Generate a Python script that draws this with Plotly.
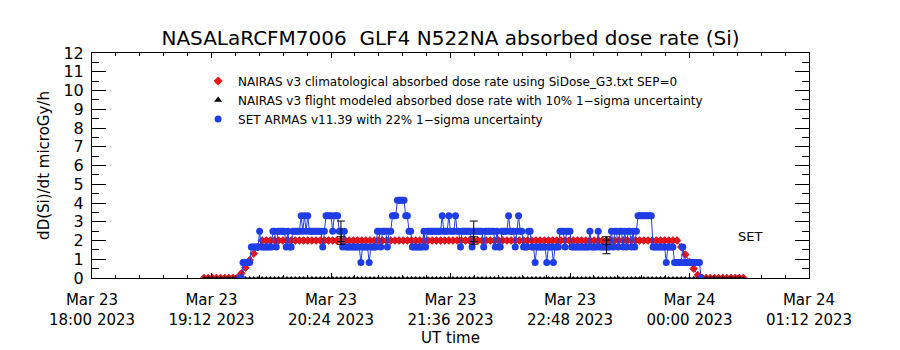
import pandas as pd
import plotly.graph_objects as go

# ---------------- data ----------------
TITLE = "NASALaRCFM7006\u00a0\u00a0GLF4 N522NA absorbed dose rate (Si)"
NAMES = [
    "NAIRAS v3 climatological absorbed dose rate using SiDose_G3.txt SEP=0",
    "NAIRAS v3 flight modeled absorbed dose rate with 10% 1\u2212sigma uncertainty",
    "SET ARMAS v11.39 with 22% 1\u2212sigma uncertainty",
]

# NAIRAS climatological (microGy/h), every 2.5 min from 19:07:30
NAIRAS_START = "2023-03-23 19:07:30"
NAIRAS_STEP = "150s"
nairas_clim = [
    0.0, 0.0, 0.0, 0.0, 0.0, 0.0, 0.0, 0.0, 0.0,
    0.25, 0.55, 0.95, 1.3, 1.65,
    2.0, 2.0, 2.0, 2.0, 2.0, 2.0, 2.0, 2.0, 2.0, 2.0,
    2.0, 2.0, 2.0, 2.0, 2.0, 2.0, 2.0, 2.0, 2.0, 2.0,
    2.0, 2.0, 2.0, 2.0, 2.0, 2.0, 2.0, 2.0, 2.0, 2.0,
    2.0, 2.0, 2.0, 2.0, 2.0, 2.0, 2.0, 2.0, 2.0, 2.0,
    2.0, 2.0, 2.0, 2.0, 2.0, 2.0, 2.0, 2.0, 2.0, 2.0,
    2.0, 2.0, 2.0, 2.0, 2.0, 2.0, 2.0, 2.0, 2.0, 2.0,
    2.0, 2.0, 2.0, 2.0, 2.0, 2.0, 2.0, 2.0, 2.0, 2.0,
    2.0, 2.0, 2.0, 2.0, 2.0, 2.0, 2.0, 2.0, 2.0, 2.0,
    2.0, 2.0, 2.0, 2.0, 2.0, 2.0, 2.0, 2.0, 2.0, 2.0,
    2.0, 2.0, 2.0, 2.0, 2.0, 2.0, 2.0, 2.0, 2.0, 2.0,
    2.0,
    1.65, 1.25, 0.85, 0.5, 0.15,
    0.0, 0.0, 0.0, 0.0, 0.0, 0.0, 0.0, 0.0, 0.0, 0.0, 0.0,
]

# NAIRAS flight modeled (microGy/h), same sampling
nairas_flight = [
    0.0, 0.0, 0.0, 0.0, 0.0, 0.0, 0.0, 0.0, 0.0, 0.0,
    0.0, 0.0, 0.0, 0.0, 0.0, 0.0, 0.0, 0.0, 0.0, 0.0,
    0.0, 0.0, 0.0, 0.0, 0.0, 0.0, 0.0, 0.0, 0.0, 0.0,
    0.0, 0.0, 0.0, 0.0, 0.0, 0.0, 0.0, 0.0, 0.0, 0.0,
    0.0, 0.0, 0.0, 0.0, 0.0, 0.0, 0.0, 0.0, 0.0, 0.0,
    0.0, 0.0, 0.0, 0.0, 0.0, 0.0, 0.0, 0.0, 0.0, 0.0,
    0.0, 0.0, 0.0, 0.0, 0.0, 0.0, 0.0, 0.0, 0.0, 0.0,
    0.0, 0.0, 0.0, 0.0, 0.0, 0.0, 0.0, 0.0, 0.0, 0.0,
    0.0, 0.0, 0.0, 0.0, 0.0, 0.0, 0.0, 0.0, 0.0, 0.0,
    0.0, 0.0, 0.0, 0.0, 0.0, 0.0, 0.0, 0.0, 0.0, 0.0,
    0.0, 0.0, 0.0, 0.0, 0.0, 0.0, 0.0, 0.0, 0.0, 0.0,
    0.0, 0.0, 0.0, 0.0, 0.0, 0.0, 0.0, 0.0, 0.0, 0.0,
    0.0, 0.0, 0.0, 0.0, 0.0, 0.0, 0.0, 0.0, 0.0, 0.0,
    0.0,
]

# SET ARMAS (microGy/h), every 1 min from 19:29
SET_START = "2023-03-23 19:29"
SET_STEP = "1min"
set_armas = [
    0.0, 0.0, 0.83, 0.83, 0.83, 0.83, 0.83, 1.66, 1.66, 1.66,
    1.66, 1.66, 2.49, 1.66, 1.66, 1.66, 1.66, 1.66, 1.66, 1.66,
    2.49, 2.49, 1.66, 2.49, 2.49, 2.49, 2.49, 2.49, 1.66, 2.49,
    1.66, 1.66, 2.49, 2.49, 2.49, 2.49, 2.49, 3.32, 2.49, 3.32,
    2.49, 3.32, 2.49, 2.49, 2.49, 2.49, 2.49, 2.49, 2.49, 2.49,
    1.66, 2.49, 3.32, 3.32, 3.32, 3.32, 2.49, 3.32, 3.32, 3.32,
    2.49, 2.49, 1.66, 2.49, 1.66, 1.66, 1.66, 1.66, 1.66, 1.66,
    1.66, 1.66, 1.66, 0.83, 1.66, 1.66, 1.66, 1.66, 0.83, 1.66,
    1.66, 1.66, 1.66, 2.49, 2.49, 1.66, 2.49, 2.49, 2.49, 1.66,
    2.49, 2.49, 3.32, 3.32, 3.32, 4.15, 4.15, 4.15, 4.15, 4.15,
    3.32, 3.32, 2.49, 2.49, 1.66, 1.66, 1.66, 1.66, 1.66, 1.66,
    1.66, 2.49, 1.66, 2.49, 2.49, 2.49, 2.49, 2.49, 2.49, 2.49,
    2.49, 2.49, 3.32, 2.49, 2.49, 2.49, 3.32, 2.49, 2.49, 2.49,
    3.32, 2.49, 2.49, 1.66, 2.49, 2.49, 2.49, 2.49, 2.49, 2.49,
    1.66, 2.49, 2.49, 2.49, 2.49, 2.49, 2.49, 1.66, 2.49, 2.49,
    2.49, 2.49, 2.49, 2.49, 1.66, 2.49, 1.66, 1.66, 2.49, 2.49,
    2.49, 2.49, 3.32, 2.49, 2.49, 2.49, 1.66, 2.49, 3.32, 2.49,
    2.49, 1.66, 1.66, 1.66, 2.49, 2.49, 1.66, 1.66, 0.83, 1.66,
    1.66, 1.66, 1.66, 1.66, 1.66, 0.83, 1.66, 1.66, 1.66, 0.83,
    1.66, 1.66, 1.66, 2.49, 2.49, 2.49, 1.66, 2.49, 2.49, 2.49,
    1.66, 1.66, 1.66, 1.66, 1.66, 1.66, 1.66, 1.66, 1.66, 1.66,
    1.66, 2.49, 1.66, 1.66, 1.66, 1.66, 2.49, 1.66, 1.66, 1.66,
    1.66, 1.66, 1.66, 1.66, 2.49, 1.66, 2.49, 2.49, 1.66, 2.49,
    2.49, 1.66, 2.49, 1.66, 2.49, 2.49, 1.66, 2.49, 1.66, 2.49,
    3.32, 3.32, 3.32, 3.32, 3.32, 3.32, 3.32, 3.32, 3.32, 1.66,
    1.66, 1.66, 1.66, 1.66, 1.66, 1.66, 1.66, 0.83, 1.66, 1.66,
    1.66, 1.66, 0.83, 0.83, 0.83, 0.83, 0.83, 1.66, 0.83, 0.83,
    0.83, 0.83, 0.83, 0.83, 0.83, 0.83, 0.83, 0.83, 0.0,
]

# uncertainty markers
ERR_TIMES = ["2023-03-23 20:30", "2023-03-23 21:50", "2023-03-23 23:10"]
ERR_NAIRAS = [2.0, 2.0, 2.0]
ERR_SET = [2.49, 2.49, 1.66]
NAIRAS_SIGMA = 0.10
SET_SIGMA = 0.22

X_RANGE = ["2023-03-23 18:00", "2023-03-24 01:12"]
Y_RANGE = [0, 12]

# ---------------- figure ----------------
FONT = "DejaVu Sans"
RED = "#e8161c"
BLUE = "#1f3de6"

t_nairas = pd.date_range(NAIRAS_START, periods=len(nairas_clim), freq=NAIRAS_STEP)
t_set = pd.date_range(SET_START, periods=len(set_armas), freq=SET_STEP)

fig = go.Figure()

fig.add_trace(go.Scatter(
    x=t_nairas, y=nairas_clim, mode="lines+markers", showlegend=False,
    line=dict(color=RED, width=1),
    marker=dict(symbol="diamond", size=6, color=RED, line=dict(color="#b00010", width=0.6)),
))
fig.add_trace(go.Scatter(
    x=t_nairas, y=nairas_flight, mode="lines+markers", showlegend=False,
    line=dict(color="black", width=1),
    marker=dict(symbol="triangle-up", size=4, color="black"),
))
fig.add_trace(go.Scatter(
    x=t_set, y=set_armas, mode="lines+markers", showlegend=False,
    line=dict(color=BLUE, width=1),
    marker=dict(symbol="circle", size=7, color=BLUE),
))

# error bars
fig.add_trace(go.Scatter(
    x=ERR_TIMES, y=ERR_NAIRAS, mode="markers", showlegend=False, hoverinfo="skip",
    marker=dict(size=1, color="rgba(0,0,0,0)"),
    error_y=dict(type="percent", value=NAIRAS_SIGMA * 100, color="black", thickness=1, width=4),
))
fig.add_trace(go.Scatter(
    x=ERR_TIMES, y=ERR_SET, mode="markers", showlegend=False, hoverinfo="skip",
    marker=dict(size=1, color="rgba(0,0,0,0)"),
    error_y=dict(type="percent", value=SET_SIGMA * 100, color="black", thickness=1, width=4),
))

# legend entries
for name, sym, col in zip(NAMES, ["diamond", "triangle-up", "circle"], [RED, "black", BLUE]):
    fig.add_trace(go.Scatter(
        x=[None], y=[None], mode="markers", name=name,
        marker=dict(symbol=sym, size=7, color=col),
    ))

fig.add_annotation(
    x="2023-03-24 00:36:30", y=2.2, xref="x", yref="y", text="SET", showarrow=False,
    font=dict(family=FONT, size=13, color="black"),
)

fig.update_layout(
    width=900, height=350,
    margin=dict(l=92, r=91, t=53, b=72),
    paper_bgcolor="white", plot_bgcolor="white",
    font=dict(family=FONT, color="black"),
    title=dict(
        text=TITLE, x=0.5, xref="paper", xanchor="center",
        y=1 - 38 / 350, yref="container", yanchor="middle",
        font=dict(family=FONT, size=20, color="black"),
    ),
    legend=dict(
        x=0.148, y=0.94, xanchor="left", yanchor="top",
        bgcolor="rgba(0,0,0,0)", borderwidth=0,
        font=dict(family=FONT, size=12, color="black"),
        itemwidth=30, tracegroupgap=0,
    ),
)

fig.update_xaxes(
    type="date", range=X_RANGE,
    tick0=X_RANGE[0], dtick=72 * 60 * 1000,
    tickformat="%b %d<br>%H:%M %Y",
    ticks="inside", ticklen=5, tickcolor="black", tickwidth=1,
    minor=dict(ticks="inside", ticklen=3, dtick=14.4 * 60 * 1000, tick0=X_RANGE[0], tickcolor="black"),
    showline=True, linecolor="black", linewidth=1, mirror="allticks",
    showgrid=False, zeroline=False,
    tickfont=dict(family=FONT, size=15, color="black"),
    ticklabelstandoff=8,
    title=dict(text="UT time", font=dict(family=FONT, size=15, color="black"), standoff=0),
)
fig.update_yaxes(
    range=Y_RANGE, dtick=1, tick0=0,
    ticks="inside", ticklen=14, tickcolor="black", tickwidth=1,
    minor=dict(ticks="inside", ticklen=7, dtick=0.5, tickcolor="black"),
    showline=True, linecolor="black", linewidth=1, mirror="allticks",
    showgrid=False, zeroline=False,
    tickfont=dict(family=FONT, size=16, color="black"),
    ticklabelstandoff=4,
    title=dict(text="dD(Si)/dt microGy/h", font=dict(family=FONT, size=15, color="black"), standoff=10),
)

fig.write_html("out.html")
